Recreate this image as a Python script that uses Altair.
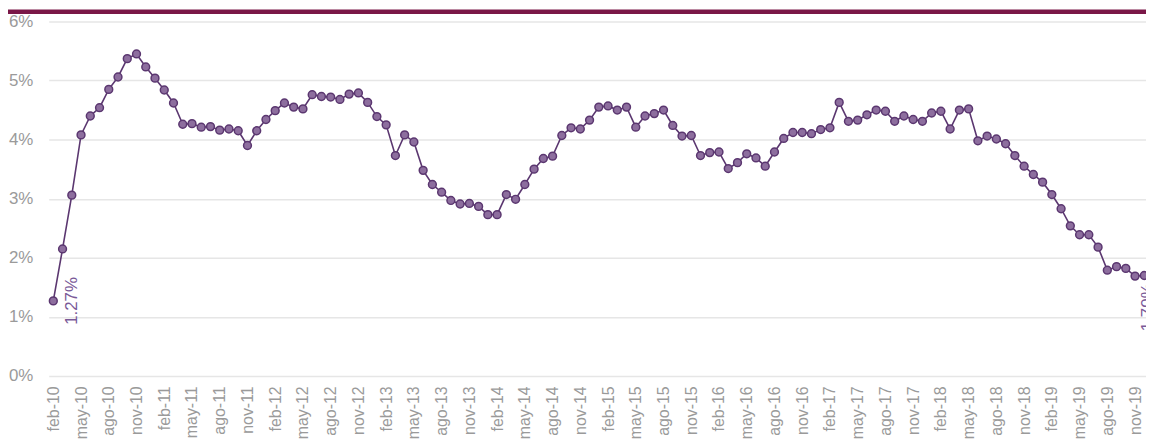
import altair as alt
import pandas as pd

# Spanish month abbreviations and years covered (feb-10 .. dic-19)
meses = ["ene", "feb", "mar", "abr", "may", "jun", "jul", "ago", "sep", "oct", "nov", "dic"]
anios = ["10", "11", "12", "13", "14", "15", "16", "17", "18", "19"]

# Monthly values (%), one list per year
v2010 = [1.27, 2.15, 3.06, 4.08, 4.40, 4.54, 4.85, 5.06, 5.37, 5.45, 5.23]  # feb..dic
v2011 = [5.04, 4.84, 4.62, 4.26, 4.27, 4.21, 4.22, 4.16, 4.18, 4.15, 3.90, 4.15]
v2012 = [4.34, 4.49, 4.62, 4.55, 4.52, 4.76, 4.73, 4.72, 4.68, 4.77, 4.79, 4.63]
v2013 = [4.39, 4.25, 3.73, 4.08, 3.96, 3.48, 3.24, 3.11, 2.97, 2.91, 2.92, 2.87]
v2014 = [2.73, 2.73, 3.07, 2.99, 3.24, 3.50, 3.68, 3.72, 4.07, 4.20, 4.18, 4.33]
v2015 = [4.55, 4.57, 4.50, 4.55, 4.21, 4.40, 4.44, 4.50, 4.24, 4.06, 4.07, 3.73]
v2016 = [3.78, 3.79, 3.51, 3.61, 3.76, 3.69, 3.55, 3.79, 4.02, 4.12, 4.12, 4.10]
v2017 = [4.17, 4.20, 4.63, 4.31, 4.33, 4.42, 4.50, 4.48, 4.31, 4.40, 4.34, 4.31]
v2018 = [4.45, 4.48, 4.18, 4.50, 4.52, 3.98, 4.06, 4.01, 3.93, 3.73, 3.55, 3.41]
v2019 = [3.28, 3.07, 2.83, 2.54, 2.39, 2.39, 2.18, 1.79, 1.85, 1.82, 1.69, 1.70]

valores = v2010 + v2011 + v2012 + v2013 + v2014 + v2015 + v2016 + v2017 + v2018 + v2019
etiquetas = [f"{m}-10" for m in meses[1:]] + [f"{m}-{a}" for a in anios[1:] for m in meses]

# Axis tick labels (every third month)
ticks_x = [e for e in etiquetas if e.split("-")[0] in ("feb", "may", "ago", "nov")]
ticks_y = [0, 1, 2, 3, 4, 5, 6]

df = pd.DataFrame({"mes": etiquetas, "valor": valores})
df_first = df.iloc[[0]].assign(txt=lambda d: d["valor"].map(lambda v: f"{v:.2f}%"))
df_last = df.iloc[[-1]].assign(txt=lambda d: d["valor"].map(lambda v: f"{v:.2f}%"))

W, H = 1105, 357
PURPLE = "#5b3770"
FONT = "Liberation Sans"

xenc = alt.X(
    "mes:O",
    sort=etiquetas,
    title=None,
    scale=alt.Scale(type="point", padding=0.34, align=0.73, domain=etiquetas),
    axis=alt.Axis(
        values=ticks_x, labelAngle=-90, labelFontSize=16, labelColor="#9a9a9a",
        labelFont=FONT, labelPadding=10, domain=False, ticks=False, grid=False,
        labelOverlap=False,
    ),
)
yenc = alt.Y(
    "valor:Q",
    title=None,
    scale=alt.Scale(domain=[0, 6], nice=False),
    axis=alt.Axis(
        values=ticks_y, labelExpr="datum.value + '%'", labelFontSize=17,
        labelColor="#9a9a9a", labelFont=FONT, labelPadding=16, domain=False,
        ticks=False, grid=True, gridColor="#e6e6e6", gridWidth=1.5,
    ),
)

bar = alt.Chart(pd.DataFrame({"k": [0]})).mark_rect(color="#7a1747").encode(
    x=alt.value(-41), x2=alt.value(W + 10), y=alt.value(-12), y2=alt.value(-7.5)
)

line = alt.Chart(df).mark_line(color=PURPLE, strokeWidth=1.6).encode(x=xenc, y=yenc)
pts = alt.Chart(df).mark_point(
    shape="circle", filled=True, size=62, fill="#8d6e9e", stroke=PURPLE,
    strokeWidth=1.5, opacity=1,
).encode(x=xenc, y=yenc)

lab1 = alt.Chart(df_first).mark_text(
    angle=270, align="center", baseline="middle", dy=19, dx=0,
    fontSize=17, font=FONT, color="#7a5a98",
).encode(x=xenc, y=yenc, text="txt:N")
lab2 = alt.Chart(df_last).mark_text(
    angle=270, align="center", baseline="middle", dy=4, dx=-32,
    fontSize=17, font=FONT, color="#7a5a98",
).encode(x=xenc, y=yenc, text="txt:N")

chart = (
    alt.layer(bar, line, pts, lab1, lab2)
    .properties(
        width=W, height=H,
        autosize=alt.AutoSizeParams(type="none"),
        padding={"left": 41, "top": 12, "right": 0, "bottom": 68},
    )
    .configure_view(stroke=None)
)

chart.save("out.html", embed_options={"renderer": "svg", "actions": False})
